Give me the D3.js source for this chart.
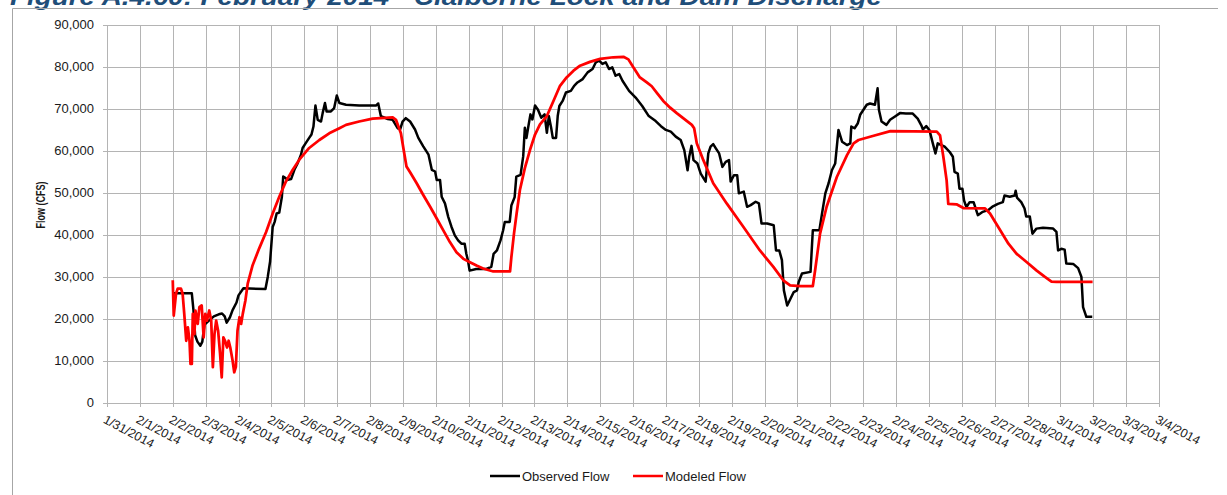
<!DOCTYPE html>
<html>
<head>
<meta charset="utf-8">
<script src="https://cdn.jsdelivr.net/npm/d3@7/dist/d3.min.js"></script>
<style>
  html, body { margin: 0; padding: 0; background: #fff; }
  svg { display: block; font-family: "Liberation Sans", Arial, sans-serif; }
</style>
</head>
<body>
<svg id="chart" width="1227" height="495"></svg>
<script>
// Claiborne Lock and Dam discharge, February 2014.
// Times are fractional days after 1/31/2014 00:00; flows in cfs.
const obsDays = [2.00,2.58,2.63,2.68,2.75,2.84,2.90,2.96,3.10,3.25,3.40,3.50,3.58,3.64,3.74,3.82,3.94,4.00,4.15,4.82,
  4.89,4.96,5.04,5.10,5.16,5.24,5.32,5.36,5.42,5.50,5.60,5.70,5.80,5.90,5.95,6.05,6.15,6.22,6.28,6.34,
  6.41,6.51,6.56,6.63,6.68,6.81,6.91,6.99,7.07,7.27,7.67,8.18,8.25,8.33,8.54,8.69,8.84,8.92,8.99,9.09,
  9.22,9.37,9.47,9.62,9.78,9.88,9.98,10.03,10.13,10.18,10.28,10.38,10.48,10.58,10.68,10.78,10.88,10.93,10.98,11.03,
  11.23,11.54,11.69,11.76,11.86,11.97,12.05,12.10,12.25,12.30,12.40,12.45,12.58,12.66,12.71,12.76,12.81,12.88,12.94,13.02,
  13.11,13.21,13.31,13.38,13.44,13.51,13.56,13.66,13.71,13.76,13.86,13.96,14.11,14.21,14.31,14.47,14.62,14.77,14.87,14.97,
  15.07,15.17,15.27,15.37,15.47,15.58,15.68,15.88,16.08,16.28,16.48,16.69,16.85,17.00,17.15,17.30,17.45,17.56,17.66,17.71,
  17.78,17.84,17.96,18.06,18.21,18.29,18.36,18.44,18.52,18.62,18.72,18.82,18.92,18.97,19.07,19.17,19.22,19.37,19.47,19.58,
  19.73,19.83,19.91,20.08,20.28,20.35,20.45,20.53,20.59,20.69,20.79,20.89,20.99,21.04,21.14,21.40,21.47,21.67,21.75,21.85,
  21.95,22.05,22.15,22.25,22.36,22.51,22.61,22.64,22.74,22.84,22.91,23.01,23.11,23.21,23.36,23.44,23.48,23.56,23.71,23.82,
  23.97,24.12,24.30,24.51,24.66,24.77,24.82,24.92,25.02,25.12,25.20,25.27,25.38,25.48,25.63,25.73,25.78,25.88,25.93,26.02,
  26.07,26.14,26.24,26.36,26.49,26.64,26.80,26.95,27.10,27.25,27.30,27.46,27.61,27.64,27.68,27.81,27.91,27.96,28.07,28.15,
  28.27,28.47,28.78,28.88,28.93,29.03,29.13,29.18,29.39,29.54,29.64,29.69,29.79,29.97];
const obsFlow = [26000,26000,22000,16000,14500,13500,14500,18500,19500,20500,21000,21200,20500,19000,20300,22000,23800,25500,27200,27000,
  29900,33500,41800,43000,45000,45200,49000,53800,53500,53000,53200,55400,57000,59000,60600,61800,63000,63800,65700,70700,
  67300,66900,68900,71300,69300,69300,70100,73100,71300,70900,70700,70700,71200,68200,67500,67300,65300,65100,66900,67700,
  66900,65000,63000,61000,59000,55400,55000,53000,53000,49000,47400,44200,41800,39800,38600,37800,37800,35400,33800,31400,
  31800,31800,32300,35400,36200,38600,41000,43000,43000,46900,48900,53800,54200,58600,65400,63000,65400,68600,67400,70700,
  69700,67800,68600,64200,68200,65400,63000,63000,68200,70600,71800,73800,74200,75400,76200,77000,78600,79400,81000,81400,
  80600,81000,79400,79800,77800,78200,76600,74200,72600,70600,68200,67000,65800,64900,64500,63300,62500,60100,55300,58500,
  61100,57700,56900,54500,52600,59300,60900,61500,60500,59300,56100,57300,57700,52600,54100,54100,49800,50200,46600,47000,
  47800,47400,42600,42600,42200,36200,36200,33900,26700,23100,24700,26300,26700,28700,30700,31100,41000,41000,45000,49800,
  52200,55300,56900,64900,62100,61300,61700,65700,65300,66500,68500,69700,70900,71200,70900,74800,69700,66900,66100,67300,
  68100,68900,68800,68800,67600,66000,65000,65800,64800,61700,59300,61700,61300,60900,59700,58500,54900,54500,50900,50900,
  48100,46500,47700,47700,44600,45400,45800,46700,47300,47700,49300,49000,49300,50400,48800,47700,46200,44300,44300,40200,
  41400,41600,41400,40600,36200,36600,36400,33100,33000,32000,29900,22700,20400,20400];

const modDays = [2.00,2.03,2.10,2.15,2.25,2.30,2.35,2.41,2.46,2.51,2.54,2.58,2.61,2.66,2.69,2.76,2.81,2.88,2.94,2.99,
  3.04,3.11,3.17,3.22,3.27,3.32,3.38,3.44,3.49,3.54,3.59,3.65,3.70,3.75,3.82,3.87,3.92,3.97,4.03,4.08,
  4.13,4.21,4.28,4.43,4.63,4.84,5.04,5.24,5.44,5.65,5.85,6.15,6.46,6.76,7.07,7.27,7.67,8.08,8.69,8.79,
  8.94,9.04,9.11,9.22,9.42,9.62,9.83,10.03,10.23,10.43,10.63,10.84,11.04,11.24,11.44,11.75,12.26,12.30,12.38,12.46,
  12.56,12.71,12.87,13.02,13.17,13.38,13.58,13.78,13.98,14.19,14.39,14.69,15.00,15.40,15.71,15.86,16.01,16.21,16.42,16.57,
  16.72,16.92,17.13,17.33,17.79,17.86,17.94,18.14,18.44,18.85,19.36,19.86,20.27,20.57,20.78,21.08,21.47,21.54,21.69,21.89,
  22.20,22.51,22.71,22.86,23.32,23.83,25.24,25.34,25.44,25.54,25.59,25.84,26.05,26.71,26.86,27.17,27.42,27.67,27.98,28.28,
  28.53,28.73,28.88,29.98];
const modFlow = [29100,20700,25900,27100,27100,25900,21100,14700,17900,14700,9200,9200,21100,16300,21900,18700,22700,23100,15500,21100,
  19500,21900,19500,8400,16300,19500,17100,11600,6000,15500,14700,13100,14700,13100,10000,7200,8500,17100,20300,18700,
  21100,24300,28300,32700,36700,40600,45000,49000,52600,55400,57800,60600,62500,64100,65300,66100,66900,67600,67900,67300,
  64100,59400,56200,54800,52200,49400,46600,43800,41000,38200,35800,34200,33400,32600,31900,31200,31200,34600,40200,45000,
  50600,55800,60200,63800,66200,68200,71800,75400,77400,79000,80200,81100,81800,82200,82300,81700,79800,77400,76200,75300,
  73800,71800,70200,68900,66100,65300,61700,57700,52200,47400,41800,36200,32300,29100,27900,27700,27700,31500,40200,46600,
  53700,58900,61700,62500,63500,64600,64500,63600,58500,52900,47300,47200,46300,46200,45000,41000,37800,35400,33400,31400,
  29900,28800,28700,28700];

const yTicks = [0,10000,20000,30000,40000,50000,60000,70000,80000,90000];
const seriesNames = ["Observed Flow", "Modeled Flow"];
const seriesColors = ["#000000", "#ff0000"];
const titleText = "Figure A.4.60: February 2014 - Claiborne Lock and Dam Discharge";
const yTitle = "Flow (CFS)";

const start = Date.UTC(2014, 0, 31);
const toDate = d => new Date(start + d * 86400000);

const svg = d3.select("#chart");
const W = 1227, H = 495;
const plotLeft = 107, plotRight = 1159, plotTop = 24.5, plotBottom = 402.5;

svg.append("rect").attr("width", W).attr("height", H).attr("fill", "#fff");

// Heading above the chart frame
svg.append("text")
  .attr("x", 10).attr("y", 5)
  .attr("fill", "#1f4e79")
  .attr("font-size", 23).attr("font-weight", "bold").attr("font-style", "italic")
  .attr("textLength", 872).attr("lengthAdjust", "spacingAndGlyphs")
  .text(titleText);

// Chart frame
svg.append("path")
  .attr("d", "M1218,8.5H12.5V495")
  .attr("fill", "none").attr("stroke", "#a6a6a6").attr("stroke-width", 1);

const x = d3.scaleUtc().domain([new Date(start), new Date(Date.UTC(2014, 2, 4))]).range([plotLeft, plotRight]);
const y = d3.scaleLinear().domain([0, 90000]).range([plotBottom, plotTop]);

// Y axis with horizontal gridlines
const yAxis = svg.append("g").attr("transform", `translate(${plotLeft},0)`)
  .call(d3.axisLeft(y).tickValues(yTicks).tickFormat(d3.format(",")).tickSize(0).tickPadding(13));
yAxis.select(".domain").remove();
yAxis.selectAll(".tick line").remove();
yAxis.selectAll(".tick").append("line")
  .attr("x1", -4.5).attr("x2", plotRight - plotLeft)
  .attr("stroke", "#b4b4b4").attr("stroke-width", 1)
  .attr("shape-rendering", "crispEdges");
yAxis.selectAll("text").attr("font-size", 13).attr("fill", "#1a1a1a")
  .attr("font-family", "Liberation Sans, Arial, sans-serif");

// X axis with daily vertical gridlines
const xAxis = svg.append("g").attr("transform", `translate(0,${plotBottom})`)
  .call(d3.axisBottom(x).ticks(d3.utcDay.every(1)).tickFormat(d3.utcFormat("%-m/%-d/%Y")).tickSize(0));
xAxis.select(".domain").remove();
xAxis.selectAll(".tick").append("line")
  .attr("y1", 4.5).attr("y2", plotTop - plotBottom)
  .attr("stroke", "#b4b4b4").attr("stroke-width", 1)
  .attr("shape-rendering", "crispEdges");
xAxis.selectAll("text")
  .attr("font-size", 12.5).attr("fill", "#1a1a1a")
  .attr("font-family", "Liberation Sans, Arial, sans-serif")
  .attr("text-anchor", "start")
  .attr("y", 0).attr("x", 0)
  .attr("dy", "0.7em")
  .attr("transform", "translate(-1,12) rotate(28)");

// Y axis title
svg.append("text")
  .attr("transform", "translate(45,205) rotate(-90)")
  .attr("text-anchor", "middle")
  .attr("font-size", 13).attr("font-weight", "bold").attr("fill", "#1a1a1a")
  .attr("textLength", 47).attr("lengthAdjust", "spacingAndGlyphs")
  .text(yTitle);

// Flow lines
const line = d3.line().x(d => x(toDate(d[0]))).y(d => y(d[1]));
const obs = obsDays.map((d, i) => [d, obsFlow[i]]);
const mod = modDays.map((d, i) => [d, modFlow[i]]);

svg.append("path").datum(obs)
  .attr("d", line).attr("fill", "none")
  .attr("stroke", seriesColors[0]).attr("stroke-width", 2.5)
  .attr("stroke-linejoin", "round");
svg.append("path").datum(mod)
  .attr("d", line).attr("fill", "none")
  .attr("stroke", seriesColors[1]).attr("stroke-width", 2.75)
  .attr("stroke-linejoin", "round");

// Legend
const legendX = [490, 633];
seriesNames.forEach((name, i) => {
  const g = svg.append("g").attr("transform", `translate(${legendX[i]},476)`);
  g.append("line").attr("x1", 0).attr("x2", 30).attr("y1", 0).attr("y2", 0)
    .attr("stroke", seriesColors[i]).attr("stroke-width", 2.5);
  g.append("text").attr("x", 32).attr("y", 0).attr("dy", "0.35em")
    .attr("font-size", 13).attr("fill", "#1a1a1a").text(name);
});
</script>
</body>
</html>
